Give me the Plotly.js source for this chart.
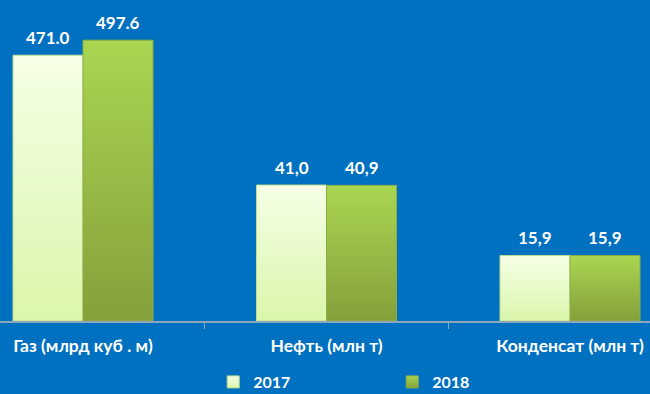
<!DOCTYPE html>
<html>
<head>
<meta charset="utf-8">
<script src="https://cdn.plot.ly/plotly-3.0.1.min.js"></script>
<style>
  html, body { margin: 0; padding: 0; background: #0070C0; }
  #chart { width: 650px; height: 394px; }
</style>
</head>
<body>
<div id="chart"></div>
<script>
// ---- data ----
const categories = ["Газ (млрд куб . м)", "Нефть (млн т)", "Конденсат (млн т)"];
const seriesNames = ["2017", "2018"];
const values2017 = [471.0, 41.0, 15.9];
const values2018 = [497.6, 40.9, 15.9];
const labels2017 = ["471.0", "41,0", "15,9"];
const labels2018 = ["497.6", "40,9", "15,9"];
// each category is drawn on its own value scale (as in the original)
const axisMax = [568.8, 96.8, 77.9];

// ---- styling ----
const font = "Lato, 'Open Sans', sans-serif";
const fillColors = ["#E9FBCA", "#98BB47"];
const lineColors = ["#BEDD8E", "#8CAE45"];
const gradStops = [["#F5FFE6", "#DAF6AB"], ["#AAD651", "#84A03B"]];
const barWidth = 0.2875;
const offsets = [-barWidth, 0];
const axisIds = ["y", "y2", "y3"];
const values = [values2017, values2018];
const labels = [labels2017, labels2018];

const traces = [];
const annotations = [];
for (let i = 0; i < categories.length; i++) {
  for (let s = 0; s < seriesNames.length; s++) {
    traces.push({
      type: "bar",
      x: [categories[i]],
      y: [values[s][i]],
      yaxis: axisIds[i],
      name: seriesNames[s],
      legendgroup: seriesNames[s],
      showlegend: i === 0,
      offset: offsets[s],
      width: barWidth,
      marker: { color: fillColors[s], line: { color: lineColors[s], width: 1 } },
      hoverinfo: "skip"
    });
    annotations.push({
      x: categories[i], xref: "x",
      y: values[s][i], yref: axisIds[i],
      xshift: (s === 0 ? -1 : 1) * 35,
      yshift: 5,
      yanchor: "bottom",
      text: labels[s][i],
      showarrow: false,
      font: { family: font, size: 17, color: "#FFFFFF", weight: 700 }
    });
  }
}

const hiddenY = (max) => ({
  range: [0, max], visible: false, fixedrange: true, showgrid: false, zeroline: false
});

const layout = {
  width: 650, height: 394,
  margin: { l: 0, r: 0, t: 0, b: 73, autoexpand: false },
  paper_bgcolor: "#0070C0",
  plot_bgcolor: "#0070C0",
  barmode: "overlay",
  showlegend: true,
  legend: {
    orientation: "h",
    x: 0.328, xanchor: "left",
    y: -0.19, yanchor: "middle",
    entrywidth: 134,
    font: { family: font, size: 16, color: "#FFFFFF", weight: 700 },
    bgcolor: "rgba(0,0,0,0)"
  },
  xaxis: {
    type: "category",
    range: [-0.3409, 2.3285],
    showline: true, linecolor: "#8DA6BE", linewidth: 1.5,
    ticks: "outside", tickson: "boundaries", ticklen: 6, tickcolor: "#8DA6BE", tickwidth: 1,
    ticklabelstandoff: 8,
    tickfont: { family: font, size: 17.5, color: "#FFFFFF", weight: 700 },
    showgrid: false, zeroline: false, fixedrange: true
  },
  yaxis: hiddenY(axisMax[0]),
  yaxis2: Object.assign(hiddenY(axisMax[1]), { overlaying: "y" }),
  yaxis3: Object.assign(hiddenY(axisMax[2]), { overlaying: "y" }),
  annotations: annotations
};

Plotly.newPlot("chart", traces, layout, { staticPlot: true, displayModeBar: false }).then(function (gd) {
  // add vertical gradients to the bars drawn by Plotly
  const svg = gd.querySelector("svg.main-svg");
  const ns = "http://www.w3.org/2000/svg";
  let defs = svg.querySelector("defs");
  if (!defs) { defs = document.createElementNS(ns, "defs"); svg.insertBefore(defs, svg.firstChild); }
  gradStops.forEach(function (st, k) {
    const g = document.createElementNS(ns, "linearGradient");
    g.setAttribute("id", "barGrad" + k);
    g.setAttribute("x1", "0"); g.setAttribute("y1", "0");
    g.setAttribute("x2", "0"); g.setAttribute("y2", "1");
    [[0, st[0]], [1, st[1]]].forEach(function (p) {
      const stop = document.createElementNS(ns, "stop");
      stop.setAttribute("offset", p[0]);
      stop.setAttribute("stop-color", p[1]);
      g.appendChild(stop);
    });
    defs.appendChild(g);
  });
  gd._fullData.forEach(function (tr, idx) {
    const k = seriesNames.indexOf(tr.name);
    const nodes = gd.querySelectorAll(".barlayer .trace");
    if (nodes[idx]) {
      nodes[idx].querySelectorAll("path").forEach(function (p) {
        p.style.fill = "url(#barGrad" + k + ")";
      });
    }
  });
  gd.querySelectorAll(".legend .traces").forEach(function (t, k) {
    t.querySelectorAll(".legendpoints path").forEach(function (p) {
      p.style.fill = "url(#barGrad" + k + ")";
    });
  });
});
</script>
</body>
</html>
